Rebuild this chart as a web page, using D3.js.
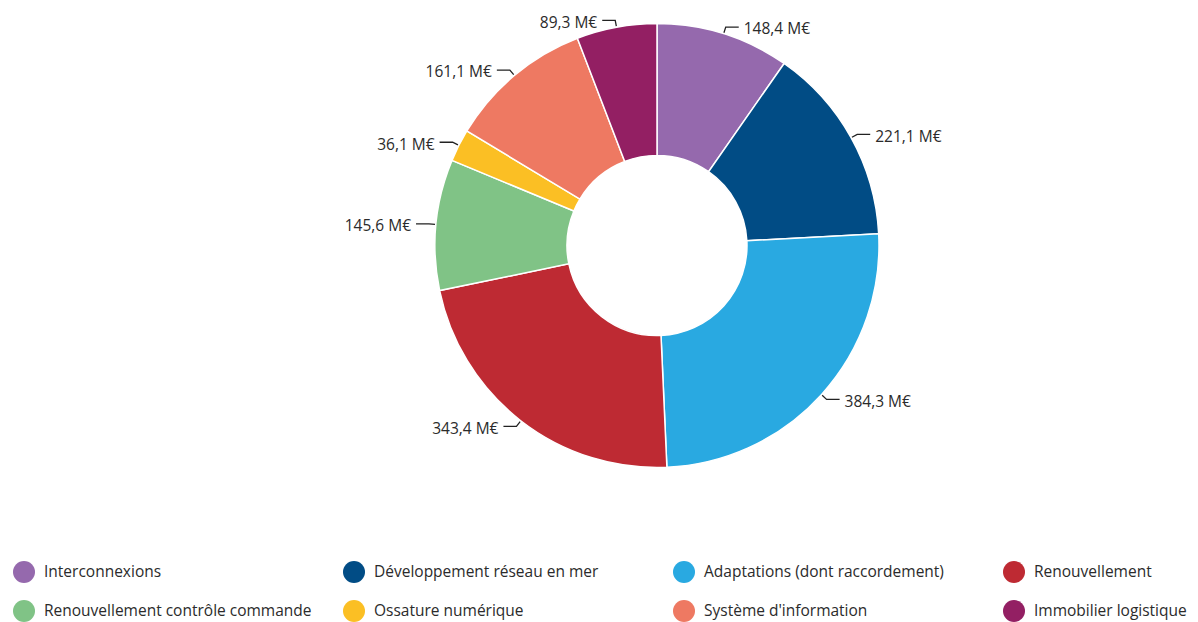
<!DOCTYPE html>
<html><head><meta charset="utf-8">
<script src="https://cdn.jsdelivr.net/npm/d3@7"></script>
<style>html,body{margin:0;padding:0;background:#fff;}svg{display:block;}</style>
</head><body>
<svg id="chart" width="1198" height="622"></svg>
<script>
const categories = ["Interconnexions","Développement réseau en mer","Adaptations (dont raccordement)","Renouvellement","Renouvellement contrôle commande","Ossature numérique","Système d'information","Immobilier logistique"];
const values = [148.4, 221.1, 384.3, 343.4, 145.6, 36.1, 161.1, 89.3];
const labels = ["148,4 M€","221,1 M€","384,3 M€","343,4 M€","145,6 M€","36,1 M€","161,1 M€","89,3 M€"];
const colors = ["#9569ad","#014c85","#29a9e1","#be2a33","#80c386","#fbbf24","#ee7962","#931f63"];

const svg = d3.select("#chart");
const cx = 657, cy = 245.5, R = 222, r0 = 90;
const data = categories.map((c,i)=>({cat:c, value:values[i], label:labels[i], color:colors[i]}));
const pie = d3.pie().value(d=>d.value).sort(null);
const arcs = pie(data);
const arc = d3.arc().innerRadius(r0).outerRadius(R);
const g = svg.append("g").attr("transform",`translate(${cx},${cy})`);
g.selectAll("path.slice").data(arcs).join("path")
  .attr("class","slice")
  .attr("d",arc).attr("fill",d=>d.data.color)
  .attr("stroke","#fff").attr("stroke-width",1.5);

const font = "'Open Sans', sans-serif";
arcs.forEach(a=>{
  const m = (a.startAngle+a.endAngle)/2;
  const sx = Math.sin(m), sy = -Math.cos(m);
  const p1 = [sx*(R+1), sy*(R+1)];
  const p2 = [sx*(R+7), sy*(R+7)];
  const right = sx >= 0;
  const p3 = [p2[0] + (right?13:-13), p2[1]];
  g.append("polyline").attr("points",[p1,p2,p3].map(p=>p.join(",")).join(" "))
    .attr("fill","none").attr("stroke","#222").attr("stroke-width",1.3);
  g.append("text").attr("x",p3[0]+(right?5:-5)).attr("y",p3[1]+2)
    .attr("dy","0.35em").attr("text-anchor",right?"start":"end")
    .attr("font-family",font).attr("font-size",15.5).attr("fill","#2b2b2b")
    .text(a.data.label);
});

const colX = [24, 354, 684, 1014];
const rowY = [572, 611];
const leg = svg.append("g");
data.forEach((d,i)=>{
  const x = colX[i%4], y = rowY[Math.floor(i/4)];
  leg.append("circle").attr("cx",x).attr("cy",y).attr("r",11).attr("fill",d.color);
  leg.append("text").attr("x",x+20).attr("y",y).attr("dy","0.35em")
    .attr("font-family",font).attr("font-size",15.5).attr("fill","#2b2b2b").text(d.cat);
});
</script>
</body></html>
